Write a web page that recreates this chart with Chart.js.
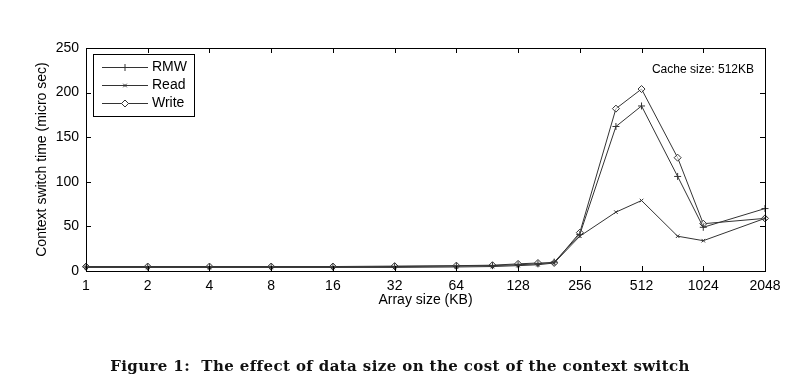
<!DOCTYPE html>
<html>
<head>
<meta charset="utf-8">
<script src="https://cdn.jsdelivr.net/npm/chart.js@4.4.1/dist/chart.umd.min.js"></script>
<style>
    html, body { margin: 0; padding: 0; background: #fff; }
    #wrap { position: relative; width: 800px; height: 390px; }
    #caption {
        position: absolute; left: 0; width: 800px; top: 357px;
        text-align: center;
        font: bold 15px "DejaVu Serif", serif;
        letter-spacing: 0.4px;
        color: #111;
    }
</style>
</head>
<body>
<div id="wrap">
    <canvas id="chart" width="800" height="390"></canvas>
    <div id="caption">Figure 1:&nbsp; The effect of data size on the cost of the context switch</div>
</div>
<script>
// Datos del gráfico
const sizes = [1, 2, 4, 8, 16, 32, 64, 96, 128, 160, 192, 256, 384, 512, 768, 1024, 2048];
const rmw   = [4.5, 4.5, 4.5, 4.5, 4.5, 5, 5.5, 6, 7, 8, 10, 41, 162, 185, 106, 49, 70];
const read  = [4, 4, 4, 4, 4, 4, 4.5, 5, 6, 7, 9, 39, 66, 79, 39, 34, 59];
const write = [5, 5, 5, 5, 5, 5.5, 6, 6.5, 8, 9, 9, 43, 182, 204, 127, 53, 59];
const xTicks = [1, 2, 4, 8, 16, 32, 64, 128, 256, 512, 1024, 2048];
const yTicks = [0, 50, 100, 150, 200, 250];

const FONT = '"Liberation Sans", Arial, sans-serif';
const LINE = '#333';

function points(values) {
    return sizes.map((s, i) => ({ x: s, y: values[i] }));
}

/**
 * Marco del área del gráfico con marcas hacia dentro (estilo Matlab)
 */
const framePlugin = {
    id: 'frame',
    afterDraw(chart) {
        const ctx = chart.ctx;
        const a = chart.chartArea;
        const xs = chart.scales.x, ys = chart.scales.y;
        ctx.save();
        ctx.strokeStyle = '#000';
        ctx.lineWidth = 1;
        ctx.strokeRect(a.left + 0.5, a.top + 0.5, a.right - a.left, a.bottom - a.top);
        ctx.beginPath();
        xTicks.forEach(v => {
            const px = Math.round(xs.getPixelForValue(v)) + 0.5;
            ctx.moveTo(px, a.bottom); ctx.lineTo(px, a.bottom - 5);
            ctx.moveTo(px, a.top); ctx.lineTo(px, a.top + 5);
        });
        yTicks.forEach(v => {
            const py = Math.round(ys.getPixelForValue(v)) + 0.5;
            ctx.moveTo(a.left, py); ctx.lineTo(a.left + 5, py);
            ctx.moveTo(a.right, py); ctx.lineTo(a.right - 5, py);
        });
        ctx.stroke();

        // Texto de anotación
        ctx.fillStyle = '#000';
        ctx.font = '12px ' + FONT;
        ctx.textAlign = 'right';
        ctx.textBaseline = 'middle';
        ctx.fillText('Cache size: 512KB', 754, 70);
        ctx.restore();
    }
};

/**
 * Leyenda con línea y marcador
 */
const legendPlugin = {
    id: 'boxLegend',
    afterDraw(chart) {
        const ctx = chart.ctx;
        ctx.save();
        ctx.fillStyle = '#fff';
        ctx.fillRect(93, 54, 101, 62);
        ctx.strokeStyle = '#000';
        ctx.lineWidth = 1;
        ctx.strokeRect(93.5, 54.5, 101, 62);
        const rows = [67, 85, 103];
        chart.data.datasets.forEach((ds, i) => {
            const y = rows[i] + 0.5;
            ctx.strokeStyle = ds.borderColor;
            ctx.lineWidth = 1;
            ctx.beginPath();
            ctx.moveTo(102, y); ctx.lineTo(148, y);
            ctx.stroke();
            ctx.fillStyle = '#fff';
            ctx.strokeStyle = ds.pointBorderColor;
            Chart.helpers.drawPoint(ctx, {
                pointStyle: ds.pointStyle,
                radius: ds.pointRadius,
                borderWidth: 1
            }, 125, y);
            ctx.fillStyle = '#000';
            ctx.font = '14px ' + FONT;
            ctx.textAlign = 'left';
            ctx.textBaseline = 'middle';
            ctx.fillText(ds.label, 152, y);
        });
        ctx.restore();
    }
};

new Chart(document.getElementById('chart'), {
    type: 'line',
    data: {
        datasets: [
            { label: 'RMW', data: points(rmw), pointStyle: 'cross', pointRadius: 3.5 },
            { label: 'Read', data: points(read), pointStyle: 'crossRot', pointRadius: 2.5 },
            { label: 'Write', data: points(write), pointStyle: 'rectRot', pointRadius: 3.5 }
        ].map(ds => Object.assign(ds, {
            borderColor: LINE,
            backgroundColor: '#fff',
            pointBorderColor: LINE,
            pointBackgroundColor: 'rgba(255,255,255,0.6)',
            borderWidth: 1,
            pointBorderWidth: 1,
            tension: 0,
            clip: false
        }))
    },
    options: {
        responsive: false,
        animation: false,
        layout: { padding: { left: 30, top: 48, right: 35, bottom: 77 } },
        plugins: {
            legend: { display: false },
            tooltip: { enabled: false }
        },
        scales: {
            x: {
                type: 'logarithmic',
                min: 1,
                max: 2048,
                afterBuildTicks: scale => { scale.ticks = xTicks.map(v => ({ value: v })); },
                afterFit: scale => { scale.height = 42; },
                grid: { display: false, drawTicks: false },
                border: { display: false },
                ticks: {
                    autoSkip: false,
                    maxRotation: 0,
                    padding: 7,
                    color: '#000',
                    font: { family: FONT, size: 14 },
                    callback: v => String(v)
                },
                title: {
                    display: true,
                    text: 'Array size (KB)',
                    color: '#000',
                    font: { family: FONT, size: 14 }
                }
            },
            y: {
                min: 0,
                max: 250,
                afterBuildTicks: scale => { scale.ticks = yTicks.map(v => ({ value: v })); },
                afterFit: scale => { scale.width = 56; },
                grid: { display: false, drawTicks: false },
                border: { display: false },
                ticks: {
                    padding: 7,
                    color: '#000',
                    font: { family: FONT, size: 14 }
                },
                title: {
                    display: true,
                    text: 'Context switch time (micro sec)',
                    color: '#000',
                    font: { family: FONT, size: 14 }
                }
            }
        }
    },
    plugins: [framePlugin, legendPlugin]
});
</script>
</body>
</html>
